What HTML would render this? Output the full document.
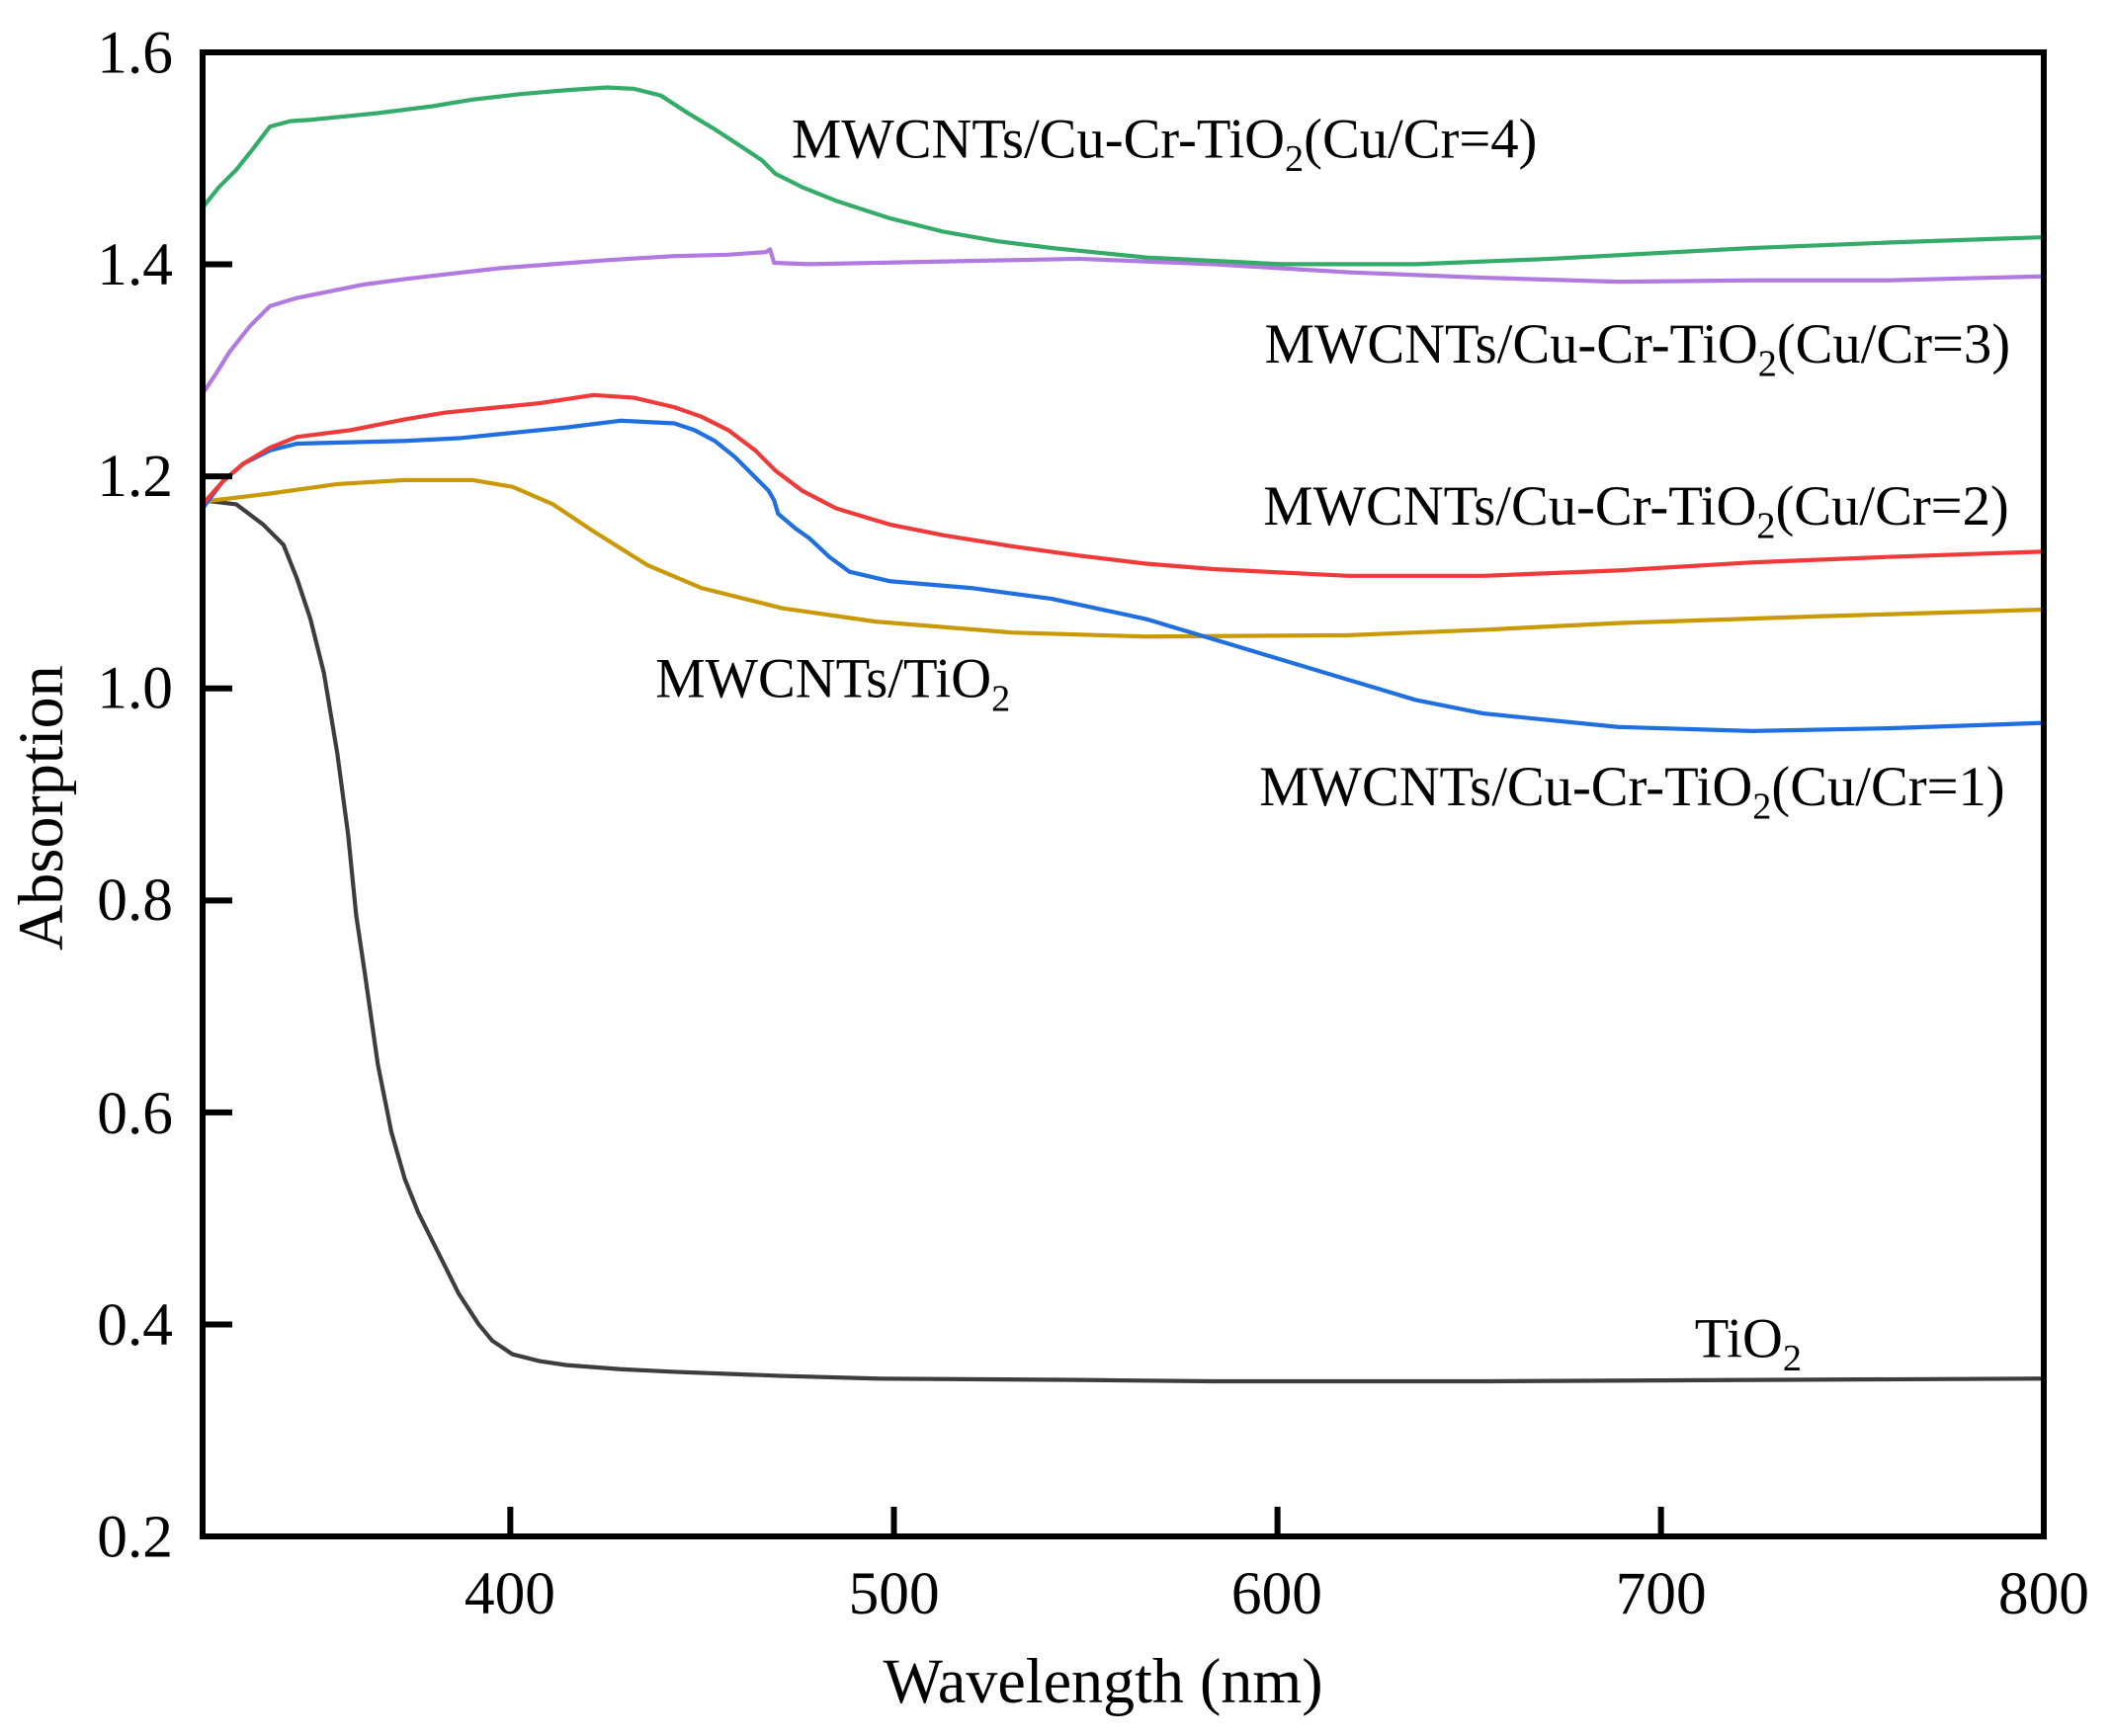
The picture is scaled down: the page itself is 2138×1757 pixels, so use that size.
<!DOCTYPE html>
<html><head><meta charset="utf-8"><style>html,body{margin:0;padding:0;background:#fff}svg{display:block}</style></head>
<body>
<svg width="2138" height="1757" viewBox="0 0 2138 1757" xmlns="http://www.w3.org/2000/svg" font-family="'Liberation Serif', serif">
<g transform="matrix(1.3638 0 0 1.3655 0.43 -1.62)">
<g fill="none" stroke-width="4.2" stroke-linejoin="round">
<polyline vector-effect="non-scaling-stroke" stroke="#3d3d3d" points="150,372 175,375 195,390 210,405 220,430 230,460 240,500 250,560 258,620 264,680 270,720 280,790 290,840 300,875 310,900 325,930 340,960 355,983 365,995 380,1005 400,1010 420,1013 460,1016 500,1018 580,1021 650,1023 800,1024 900,1025 1100,1025 1300,1024 1516,1023"/>
<polyline vector-effect="non-scaling-stroke" stroke="#c99a06" points="150,373 200,367 250,360 300,357 350,357 380,362 410,375 440,395 480,420 520,437 580,452 650,462 750,470 850,473 1000,472 1100,468 1200,463 1350,458 1516,453"/>
<polyline vector-effect="non-scaling-stroke" stroke="#1f6fe0" points="150,378 165,358 180,345 200,335 220,330 260,329 300,328 340,326 380,322 420,318 460,313 500,315 515,320 530,328 545,340 560,355 570,365 574,372 577,382 590,393 600,400 615,414 630,425 660,432 720,437 780,445 850,460 900,475 950,490 1000,505 1050,520 1100,530 1200,540 1300,543 1400,541 1516,537"/>
<polyline vector-effect="non-scaling-stroke" stroke="#f03a3a" points="150,375 165,358 180,345 200,333 220,325 260,320 300,312 330,307 370,303 400,300 440,294 470,296 500,303 520,310 540,320 560,335 575,350 595,365 620,378 660,390 700,398 750,406 800,413 850,419 900,423 1000,428 1100,428 1200,424 1300,418 1400,414 1516,410"/>
<polyline vector-effect="non-scaling-stroke" stroke="#b07ae0" points="150,293 160,278 170,262 185,243 200,228 220,222 240,218 270,212 300,208 335,204 370,200 410,197 450,194 500,191 540,190 568,188 571,186 574,196 600,197 700,195 800,193 900,197 950,200 1000,203 1100,207 1200,210 1300,209 1400,209 1516,206"/>
<polyline vector-effect="non-scaling-stroke" stroke="#35ab6a" points="150,155 162,140 175,127 187,112 200,95 215,91 230,90 260,87 280,85 320,80 350,75 385,71 420,68 450,66 470,67 490,72 510,85 530,97 550,110 565,120 575,130 595,140 620,150 660,163 700,173 740,180 780,185 850,192 950,197 1050,197 1150,193 1300,185 1400,181 1516,177"/>
</g>
<g stroke="#000" stroke-width="6" fill="none">
<rect x="150" y="40" width="1366" height="1100" vector-effect="non-scaling-stroke"/>
<path vector-effect="non-scaling-stroke" d="M150 197.1h22M150 354.3h22M150 511.4h22M150 668.6h22M150 825.7h22M150 982.9h22M378.3 1140v-22M662.9 1140v-22M947.5 1140v-22M1232 1140v-22"/>
</g>
<g font-size="45" fill="#000" text-anchor="end">
<text x="128" y="55">1.6</text><text x="128" y="212">1.4</text><text x="128" y="369">1.2</text><text x="128" y="526">1.0</text><text x="128" y="683">0.8</text><text x="128" y="841">0.6</text><text x="128" y="998">0.4</text><text x="128" y="1155">0.2</text>
</g>
<g font-size="45" fill="#000" text-anchor="middle">
<text x="378" y="1197">400</text><text x="663" y="1197">500</text><text x="947" y="1197">600</text><text x="1232" y="1197">700</text><text x="1516" y="1197">800</text>
<text x="818" y="1263" font-size="47">Wavelength (nm)</text>
<text transform="translate(46 600) rotate(-90)" font-size="47">Absorption</text>
</g>
<g font-size="41.5" fill="#000">
<text x="587" y="118">MWCNTs/Cu-Cr-TiO<tspan font-size="28" dy="10">2</tspan><tspan dy="-10">(Cu/Cr=4)</tspan></text>
<text x="938" y="270">MWCNTs/Cu-Cr-TiO<tspan font-size="28" dy="10">2</tspan><tspan dy="-10">(Cu/Cr=3)</tspan></text>
<text x="937" y="390">MWCNTs/Cu-Cr-TiO<tspan font-size="28" dy="10">2</tspan><tspan dy="-10">(Cu/Cr=2)</tspan></text>
<text x="486" y="518">MWCNTs/TiO<tspan font-size="28" dy="10">2</tspan></text>
<text x="934" y="598">MWCNTs/Cu-Cr-TiO<tspan font-size="28" dy="10">2</tspan><tspan dy="-10">(Cu/Cr=1)</tspan></text>
<text x="1257" y="1007">TiO<tspan font-size="28" dy="10">2</tspan></text>
</g>
</g>
</svg>
</body></html>
